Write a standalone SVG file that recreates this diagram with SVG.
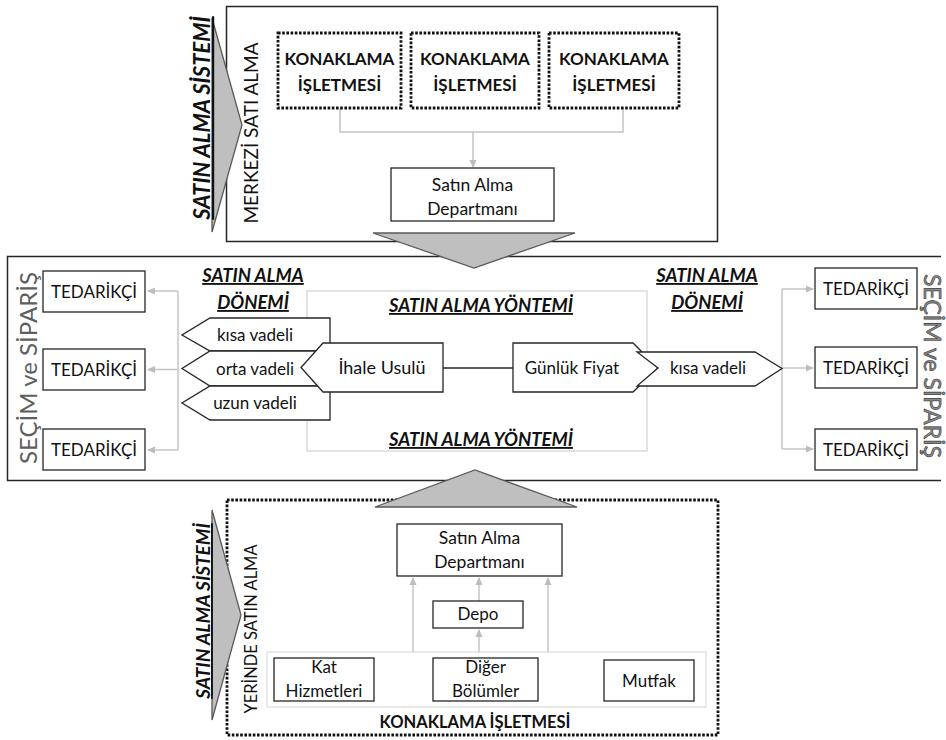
<svg xmlns="http://www.w3.org/2000/svg" width="946" height="740" viewBox="0 0 946 740">
  <defs>
    <marker id="arr" markerWidth="8" markerHeight="8" refX="7" refY="4" orient="auto" markerUnits="userSpaceOnUse">
      <path d="M0,0.5 L8,4 L0,7.5 z" fill="#bdbdbd"/>
    </marker>
  </defs>
  <style>
    .t{font-family:Lato,"Liberation Sans",sans-serif;font-size:17px;fill:#111;text-anchor:middle}
    .b{font-weight:bold}
    .bi{font-weight:bold;font-style:italic;text-decoration:underline;font-size:18.5px}
    .box{fill:#fff;stroke:#262626;stroke-width:1.3}
    .dot{fill:#fff;stroke:#111;stroke-width:2.8;stroke-dasharray:2.6 1.6}
    .con{fill:none;stroke:#c4c4c4;stroke-width:1.5}
    .tri{fill:#bfbfbf;stroke:#5a5a5a;stroke-width:1.3}
    .frame{fill:none;stroke:#262626;stroke-width:1.5}
    .light{fill:none;stroke:#dadada;stroke-width:1.5}
  </style>
  <rect width="946" height="740" fill="#fff"/>

  <!-- frames -->
  <g id="frames">
    <rect class="frame" x="226.5" y="6.5" width="491" height="235"/>
    <path class="frame" d="M941,256.5 H7.5 V480.5 H941"/>
    <rect class="light" x="307" y="291" width="340" height="160"/>
    <rect class="dot" x="227" y="500" width="491" height="235"/>
    <rect x="267" y="652" width="439" height="55" fill="none" stroke="#e2e2e2" stroke-width="1.5"/>
  </g>

  <!-- connectors -->
  <g id="connectors">
    <path class="con" d="M340,108 V132 H623 V108"/>
    <path class="con" d="M473,132 V167" marker-end="url(#arr)"/>
    <path class="con" d="M178,291 V450"/>
    <path class="con" d="M178,291 H148" marker-end="url(#arr)"/>
    <path class="con" d="M178,369.5 H148" marker-end="url(#arr)"/>
    <path class="con" d="M178,450 H148" marker-end="url(#arr)"/>
    <path class="con" d="M782,289 V449"/>
    <path class="con" d="M782,289 H813" marker-end="url(#arr)"/>
    <path class="con" d="M782,368 H813" marker-end="url(#arr)"/>
    <path class="con" d="M782,449 H813" marker-end="url(#arr)"/>
    <path class="con" d="M413,652 V578" marker-end="url(#arr)"/>
    <path class="con" d="M479,652 V630" marker-end="url(#arr)"/>
    <path class="con" d="M479,601 V578" marker-end="url(#arr)"/>
    <path class="con" d="M548,652 V578" marker-end="url(#arr)"/>
    <path d="M443,368 H513" fill="none" stroke="#262626" stroke-width="1.3"/>
  </g>

  <!-- central purchasing -->
  <g id="hotel-1">
    <rect class="dot" x="278" y="33" width="123" height="75"/>
    <text class="t b" x="339.5" y="65">KONAKLAMA</text>
    <text class="t b" x="339.5" y="91">İŞLETMESİ</text>
  </g>
  <g id="hotel-2">
    <rect class="dot" x="411" y="33" width="128" height="75"/>
    <text class="t b" x="475" y="65">KONAKLAMA</text>
    <text class="t b" x="475" y="91">İŞLETMESİ</text>
  </g>
  <g id="hotel-3">
    <rect class="dot" x="549" y="33" width="130" height="75"/>
    <text class="t b" x="614" y="65">KONAKLAMA</text>
    <text class="t b" x="614" y="91">İŞLETMESİ</text>
  </g>
  <g id="dept-central">
    <rect class="box" x="391" y="168" width="163" height="53"/>
    <text class="t" x="472.5" y="191" style="font-size:17.5px">Satın Alma</text>
    <text class="t" x="472.5" y="215" style="font-size:17.5px">Departmanı</text>
  </g>
  <g id="label-central">
    <text class="t" transform="translate(258,133) rotate(-90)" style="font-size:19px">MERKEZİ SATI ALMA</text>
  </g>

  <!-- purchasing methods band -->
  <g id="period-left-title">
    <text class="t bi" x="253" y="282">SATIN ALMA</text>
    <text class="t bi" x="253" y="309">DÖNEMİ</text>
  </g>
  <g id="period-right-title">
    <text class="t bi" x="707" y="282">SATIN ALMA</text>
    <text class="t bi" x="707" y="309">DÖNEMİ</text>
  </g>
  <g id="method-title">
    <text class="t bi" x="481" y="312">SATIN ALMA YÖNTEMİ</text>
    <text class="t bi" x="481" y="446">SATIN ALMA YÖNTEMİ</text>
  </g>

  <g id="short-left">
    <polygon class="box" points="210,318 330,318 330,351 210,351 182,335"/>
    <text class="t" x="255" y="341">kısa vadeli</text>
  </g>
  <g id="mid-left">
    <polygon class="box" points="210,351 330,351 330,386 210,386 182,368.5"/>
    <text class="t" x="255" y="375">orta vadeli</text>
  </g>
  <g id="long-left">
    <polygon class="box" points="210,386 330,386 330,420 210,420 182,403"/>
    <text class="t" x="255" y="409">uzun vadeli</text>
  </g>
  <g id="tender">
    <polygon class="box" points="323,343 443,343 443,392 323,392 301,367.5"/>
    <text class="t" x="382" y="374" style="font-size:18px">İhale Usulü</text>
  </g>
  <g id="daily-price">
    <polygon class="box" points="513,343 633,343 658,368 633,392 513,392"/>
    <text class="t" x="572" y="374">Günlük Fiyat</text>
  </g>
  <g id="short-right">
    <polygon class="box" points="637,352 755,352 782,368.5 755,386 637,386 658,368"/>
    <text class="t" x="708" y="374">kısa vadeli</text>
  </g>

  <g id="supplier-l1"><rect class="box" x="43" y="271" width="102" height="41"/><text class="t" x="94" y="297.5">TEDARİKÇİ</text></g>
  <g id="supplier-l2"><rect class="box" x="43" y="349" width="102" height="41"/><text class="t" x="94" y="375.5">TEDARİKÇİ</text></g>
  <g id="supplier-l3"><rect class="box" x="43" y="429" width="102" height="41"/><text class="t" x="94" y="455.5">TEDARİKÇİ</text></g>
  <g id="supplier-r1"><rect class="box" x="815" y="268" width="102" height="41"/><text class="t" x="866" y="294.5">TEDARİKÇİ</text></g>
  <g id="supplier-r2"><rect class="box" x="815" y="347" width="102" height="41"/><text class="t" x="866" y="373.5">TEDARİKÇİ</text></g>
  <g id="supplier-r3"><rect class="box" x="815" y="429" width="102" height="41"/><text class="t" x="866" y="455.5">TEDARİKÇİ</text></g>

  <g id="selection-left">
    <text class="t" transform="translate(37,368) rotate(-90)" style="font-size:24px;fill:#5e5e5e">SEÇİM ve SİPARİŞ</text>
  </g>
  <g id="selection-right">
    <text class="t" transform="translate(924,366) rotate(90)" style="font-size:23px;fill:#8a8a8a;stroke:#3a3a3a;stroke-width:0.6">SEÇİM ve SİPARİŞ</text>
  </g>

  <!-- on-site purchasing -->
  <g id="dept-onsite">
    <rect class="box" x="397" y="524" width="165" height="52"/>
    <text class="t" x="479.5" y="544" style="font-size:17.5px">Satın Alma</text>
    <text class="t" x="479.5" y="568" style="font-size:17.5px">Departmanı</text>
  </g>
  <g id="depot">
    <rect class="box" x="433" y="601" width="90" height="27"/>
    <text class="t" x="478" y="620">Depo</text>
  </g>
  <g id="housekeeping">
    <rect class="box" x="274" y="658" width="100" height="43"/>
    <text class="t" x="324" y="673">Kat</text>
    <text class="t" x="324" y="697">Hizmetleri</text>
  </g>
  <g id="other-units">
    <rect class="box" x="433" y="658" width="105" height="43"/>
    <text class="t" x="485.5" y="673">Diğer</text>
    <text class="t" x="485.5" y="697">Bölümler</text>
  </g>
  <g id="kitchen">
    <rect class="box" x="604" y="660" width="90" height="41"/>
    <text class="t" x="649" y="687">Mutfak</text>
  </g>
  <g id="hotel-onsite">
    <text class="t b" x="475" y="728" style="font-size:16.5px">KONAKLAMA İŞLETMESİ</text>
  </g>
  <g id="label-onsite">
    <text class="t" transform="translate(257,629) rotate(-90)" style="font-size:16.5px">YERİNDE SATIN ALMA</text>
  </g>

  <!-- system arrows -->
  <g id="system-top">
    <polygon class="tri" points="212,18 242,125 212,232"/>
    <text class="t bi" transform="translate(210,118) rotate(-90)" style="font-size:22px">SATIN ALMA SİSTEMİ</text>
  </g>
  <g id="system-bottom">
    <polygon class="tri" points="212,510 241,615 212,720"/>
    <text class="t bi" transform="translate(210,611) rotate(-90)" style="font-size:19px">SATIN ALMA SİSTEMİ</text>
  </g>
  <g id="flow-down">
    <polygon class="tri" points="373,233 575,233 474,268"/>
  </g>
  <g id="flow-up">
    <polygon class="tri" points="375,507 577,507 475,470"/>
  </g>
</svg>
